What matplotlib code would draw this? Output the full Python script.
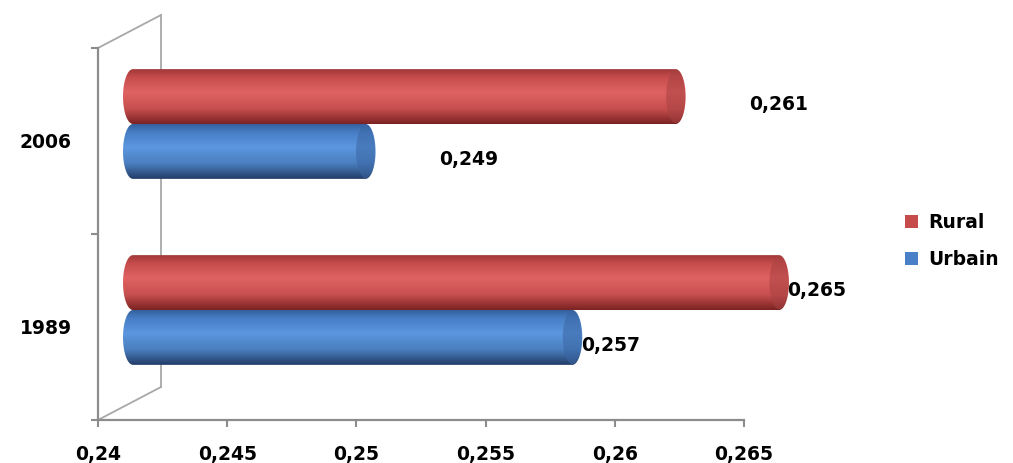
import matplotlib
matplotlib.use('Agg')
import matplotlib.pyplot as plt
import matplotlib.transforms as mtransforms
from matplotlib.colors import LinearSegmentedColormap
from matplotlib.patches import Ellipse, PathPatch, Patch
from matplotlib.path import Path
import numpy as np

# data
years = ['1989', '2006']
rural = [0.265, 0.261]
urbain = [0.257, 0.249]
xticks = [0.24, 0.245, 0.25, 0.255, 0.26, 0.265]
xtick_labels = ['0,24', '0,245', '0,25', '0,255', '0,26', '0,265']

W, H = 1013, 463
fig = plt.figure(figsize=(W / 100, H / 100), dpi=100)
ax = fig.add_axes([98 / W, 43 / H, 646 / W, 372 / H])
ax.set_xlim(0.24, 0.265)
ax.set_ylim(-0.5, 1.5)

gray = '#8c8c8c'
bar_h = 0.295
cap_px = 10  # half width of the cylinder ends, pixels
px_per_x = 646 / 0.025
cap = cap_px / px_per_x
fs = 13.5

# 3d look: bars sit half way into the box, back wall at full depth
bar_tr = mtransforms.offset_copy(ax.transData, fig, x=35, y=17, units='dots')

red_cm = LinearSegmentedColormap.from_list('r', [
    (0.0, '#a13838'), (0.15, '#c64c4c'), (0.42, '#e06262'),
    (0.72, '#c74f4f'), (1.0, '#7a2222')])
blue_cm = LinearSegmentedColormap.from_list('b', [
    (0.0, '#33609c'), (0.15, '#487ec6'), (0.42, '#5c97df'),
    (0.72, '#4a7ebf'), (1.0, '#223c66')])
grad = np.linspace(0, 1, 256).reshape(-1, 1)


def cylinder(x1, yc, cmap, cap_color):
    x0 = 0.24
    y0, y1 = yc - bar_h / 2, yc + bar_h / 2
    t = np.linspace(np.pi / 2, -np.pi / 2, 40)
    right = np.column_stack([x1 + cap * np.cos(t), yc + bar_h / 2 * np.sin(t)])
    t2 = np.linspace(-np.pi / 2, -3 * np.pi / 2, 40)
    left = np.column_stack([x0 + cap * np.cos(t2), yc + bar_h / 2 * np.sin(t2)])
    verts = np.vstack([right, left, right[:1]])
    codes = [Path.MOVETO] + [Path.LINETO] * (len(verts) - 2) + [Path.CLOSEPOLY]
    body = PathPatch(Path(verts, codes), facecolor='none', edgecolor='none',
                     transform=bar_tr, clip_on=False)
    ax.add_patch(body)
    im = ax.imshow(grad, cmap=cmap, aspect='auto', origin='upper',
                   extent=[x0 - cap, x1 + cap, y0, y1], transform=bar_tr,
                   zorder=3, interpolation='bilinear')
    im.set_clip_path(body)
    im.set_clip_box(fig.bbox)
    end = Ellipse((x1, yc), 2 * cap * 0.95, bar_h * 0.97, transform=bar_tr,
                  facecolor=cap_color, edgecolor='none', alpha=0.55, zorder=4,
                  clip_on=False)
    ax.add_patch(end)


for i in range(len(years)):
    cylinder(rural[i], i + bar_h / 2, red_cm, '#a84242')
    cylinder(urbain[i], i - bar_h / 2, blue_cm, '#3a66a3')

ax.set_xlim(0.24, 0.265)
ax.set_ylim(-0.5, 1.5)

# value labels
label_dx = [73, 138]
for i in range(len(years)):
    for v, yc in [(rural[i], i + bar_h / 2), (urbain[i], i - bar_h / 2)]:
        tr = mtransforms.offset_copy(ax.transData, fig, x=label_dx[i], y=9, units='dots')
        ax.text(v, yc, ('%.3f' % v).replace('.', ','), transform=tr,
                ha='center', va='center', fontsize=fs, fontweight='bold', zorder=5)

# back wall / floor of the 3d box
dx, dy = 63 / 646, 33 / 372
kw = dict(transform=ax.transAxes, color='#a8a8a8', lw=1.3, clip_on=False, zorder=1)
ax.plot([dx, dx], [dy, 1 + dy], **kw)
ax.plot([0, dx], [1, 1 + dy], **kw)
ax.plot([0, dx], [0, dy], **kw)

for s in ['top', 'right']:
    ax.spines[s].set_visible(False)
for s in ['left', 'bottom']:
    ax.spines[s].set_color(gray)
    ax.spines[s].set_linewidth(1.6)

ax.set_xticks(xticks)
ax.set_xticklabels(xtick_labels, fontsize=fs, fontweight='bold')
ax.tick_params(axis='x', length=5, width=1.5, color=gray, pad=13)
ax.set_yticks([0, 1])
ax.set_yticklabels(years, fontsize=fs, fontweight='bold')
ax.set_yticks([-0.5, 0.5, 1.5], minor=True)
ax.tick_params(axis='y', which='major', length=0, pad=19)
ax.tick_params(axis='y', which='minor', length=5, width=1.5, color=gray)

handles = [Patch(facecolor='#c64c4c', edgecolor='none'),
           Patch(facecolor='#4a80c8', edgecolor='none')]
fig.legend(handles, ['Rural', 'Urbain'], loc='center left',
           bbox_to_anchor=(888 / W, 1 - 241 / H), frameon=False,
           prop={'size': fs, 'weight': 'bold'}, handlelength=0.7,
           handleheight=0.7, handletextpad=0.55, labelspacing=0.95)

fig.savefig('out.png', dpi=100)
